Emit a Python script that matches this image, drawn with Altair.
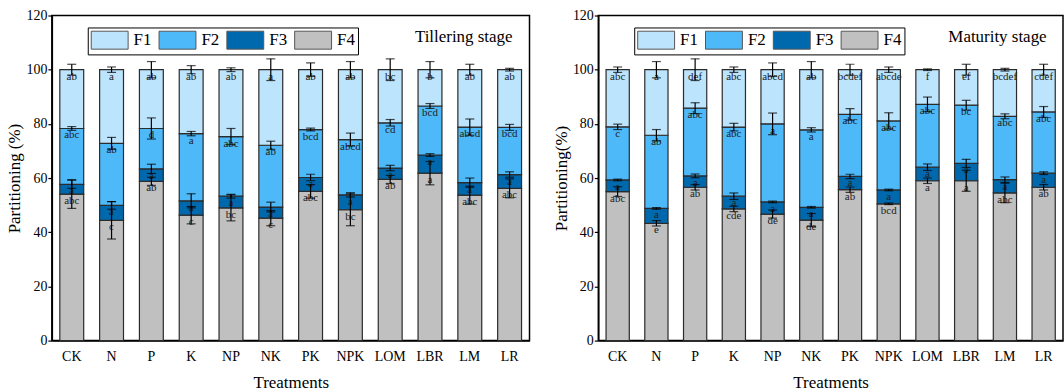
import altair as alt
import pandas as pd

SERIF = "Liberation Serif"

treatments = ["CK", "N", "P", "K", "NP", "NK", "PK", "NPK", "LOM", "LBR", "LM", "LR"]
fractions = ["F1", "F2", "F3", "F4"]
colors = ["#BCE4FC", "#4DB9F9", "#0069AE", "#C0C0C0"]

# ---- Tillering stage (component values, %) ----
till_F4 = [54.1, 44.4, 58.8, 46.3, 49.0, 45.2, 55.1, 48.3, 59.5, 61.8, 53.7, 56.2]
till_F3 = [3.6, 5.5, 4.6, 5.3, 4.3, 4.1, 5.1, 5.5, 4.2, 6.7, 4.6, 5.1]
till_F2 = [20.6, 22.9, 14.9, 24.8, 22.0, 22.8, 17.7, 20.4, 16.7, 18.1, 20.5, 17.4]
till_F1 = [21.7, 27.2, 21.7, 23.6, 24.7, 27.9, 22.1, 25.8, 19.6, 13.4, 21.2, 21.3]
till_err_F1 = [2.0, 1.0, 3.0, 1.5, 0.7, 4.0, 2.5, 3.0, 4.0, 3.0, 2.0, 0.5]
till_err_F2 = [0.7, 2.2, 3.9, 0.8, 3.0, 1.5, 0.5, 2.4, 1.2, 0.9, 3.0, 1.1]
till_err_F3 = [1.5, 1.4, 1.7, 2.6, 0.7, 1.8, 1.2, 0.8, 1.0, 0.5, 1.7, 1.0]
till_err_F4 = [5.3, 6.9, 1.5, 3.2, 4.8, 2.8, 2.5, 5.9, 1.5, 4.3, 3.3, 3.5]
till_let_F1 = ["ab", "a", "ab", "ab", "ab", "a", "ab", "ab", "bc", "b", "ab", "ab"]
till_let_F2 = ["abc", "ab", "d", "a", "abc", "ab", "bcd", "abcd", "cd", "bcd", "abcd", "bcd"]
till_let_F3 = ["a"] * 12
till_let_F4 = ["abc", "c", "ab", "c", "bc", "c", "abc", "bc", "ab", "a", "abc", "abc"]

# ---- Maturity stage (component values, %) ----
mat_F4 = [55.0, 43.3, 56.6, 48.6, 46.7, 44.5, 55.7, 50.5, 59.0, 59.0, 54.5, 56.6]
mat_F3 = [4.3, 5.5, 4.2, 4.7, 4.5, 4.7, 4.9, 5.1, 5.0, 6.4, 4.9, 5.2]
mat_F2 = [19.6, 27.0, 25.0, 25.5, 28.8, 28.6, 22.9, 25.5, 23.2, 21.5, 23.4, 22.6]
mat_F1 = [21.1, 24.2, 14.2, 21.2, 20.0, 22.2, 16.5, 18.9, 12.8, 13.1, 17.2, 15.6]
mat_err_F1 = [1.0, 3.0, 4.0, 1.0, 2.5, 3.0, 2.0, 1.0, 0.3, 2.0, 0.5, 2.0]
mat_err_F2 = [1.0, 2.1, 2.0, 1.4, 4.0, 0.8, 2.1, 3.0, 2.7, 1.8, 0.9, 2.0]
mat_err_F3 = [0.3, 0.3, 0.7, 1.2, 0.3, 0.3, 0.8, 0.3, 1.2, 1.5, 1.0, 0.5]
mat_err_F4 = [1.8, 1.0, 1.0, 1.0, 1.5, 2.4, 1.0, 0.3, 1.0, 3.9, 3.6, 1.0]
mat_let_F1 = ["abc", "a", "def", "abc", "abcd", "ab", "bcdef", "abcde", "f", "ef", "bcdef", "cdef"]
mat_let_F2 = ["c", "ab", "abc", "abc", "a", "a", "abc", "abc", "abc", "bc", "abc", "abc"]
mat_let_F3 = ["a"] * 12
mat_let_F4 = ["abc", "e", "ab", "cde", "de", "de", "ab", "bcd", "a", "a", "abc", "ab"]


def build_df(vals, errs, lets):
    rows = []
    for i, t in enumerate(treatments):
        base = 0.0
        for f in ["F4", "F3", "F2", "F1"]:
            v = vals[f][i]
            rows.append(dict(treatment=t, fraction=f, start=base, end=base + v,
                             err=errs[f][i], letter=lets[f][i]))
            base += v
    return pd.DataFrame(rows)


till_df = build_df(
    {"F1": till_F1, "F2": till_F2, "F3": till_F3, "F4": till_F4},
    {"F1": till_err_F1, "F2": till_err_F2, "F3": till_err_F3, "F4": till_err_F4},
    {"F1": till_let_F1, "F2": till_let_F2, "F3": till_let_F3, "F4": till_let_F4},
)
mat_df = build_df(
    {"F1": mat_F1, "F2": mat_F2, "F3": mat_F3, "F4": mat_F4},
    {"F1": mat_err_F1, "F2": mat_err_F2, "F3": mat_err_F3, "F4": mat_err_F4},
    {"F1": mat_let_F1, "F2": mat_let_F2, "F3": mat_let_F3, "F4": mat_let_F4},
)


def panel(df, stage, ytitle, width, pad_outer):
    xs = alt.X("treatment:N", sort=treatments,
               scale=alt.Scale(paddingInner=0.4, paddingOuter=pad_outer),
               axis=alt.Axis(title="Treatments", labelAngle=0, ticks=False,
                             labelPadding=9, titlePadding=11))
    yscale = alt.Scale(domain=[0, 120], nice=False)
    bars = alt.Chart(df).mark_bar(stroke="#2b2b2b", strokeWidth=1.2).encode(
        x=xs,
        y=alt.Y("start:Q", scale=yscale,
                axis=alt.Axis(title=ytitle, values=[0, 20, 40, 60, 80, 100, 120],
                              titlePadding=2)),
        y2="end:Q",
        color=alt.Color("fraction:N",
                        scale=alt.Scale(domain=fractions, range=colors),
                        legend=alt.Legend(
                            title=None, orient="none", legendX=36, legendY=12,
                            direction="horizontal",
                            symbolType="M-1,-1L3.11,-1L3.11,1L-1,1Z",
                            symbolSize=324, symbolStrokeColor="#555555",
                            symbolStrokeWidth=1, symbolOpacity=1,
                            labelFont=SERIF, labelFontSize=17, labelColor="black",
                            labelOffset=24, columnPadding=5, padding=3,
                            strokeColor="black", fillColor="white")),
    )
    letters = alt.Chart(df).mark_text(dy=7, baseline="middle", font=SERIF,
                                      fontSize=11, color="#222222").encode(
        x=xs, y=alt.Y("end:Q", scale=yscale), text="letter:N")
    base_err = alt.Chart(df).transform_calculate(
        lo="datum.end - datum.err", hi="datum.end + datum.err")
    err_line = base_err.mark_rule(color="black", strokeWidth=1.2).encode(
        x=xs, y=alt.Y("lo:Q", scale=yscale), y2="hi:Q")
    cap_lo = base_err.mark_tick(color="black", size=9, thickness=1.2).encode(
        x=xs, y=alt.Y("lo:Q", scale=yscale))
    cap_hi = base_err.mark_tick(color="black", size=9, thickness=1.2).encode(
        x=xs, y=alt.Y("hi:Q", scale=yscale))
    label = alt.Chart(pd.DataFrame({"t": [stage]})).mark_text(
        align="right", baseline="middle", font=SERIF, fontSize=17, color="black",
        dx=3).encode(x=alt.datum("LR"), y=alt.datum(112), text="t:N")
    return alt.layer(bars, letters, err_line, cap_lo, cap_hi, label).properties(
        width=width, height=326)


left = panel(till_df, "Tillering stage", "Partitioning (%)", 479, 0.2)
right = panel(mat_df, "Maturity stage", "Partitioning(%)", 466, 0.2)

chart = alt.hconcat(left, right, spacing=21).resolve_legend(
    color="independent").properties(
    padding={"left": 5, "top": 7, "right": 0, "bottom": 0}
).configure_view(stroke="black", strokeWidth=1.5).configure_axis(
    labelFont=SERIF, labelFontSize=14, labelColor="black",
    titleFont=SERIF, titleFontSize=17, titleFontWeight="normal", titleColor="black",
    domainColor="black", domainWidth=1.5, tickColor="black", tickWidth=1.2,
    tickSize=4, labelPadding=1, grid=False)

chart.save("out.html", embed_options={"renderer": "svg", "actions": False})
